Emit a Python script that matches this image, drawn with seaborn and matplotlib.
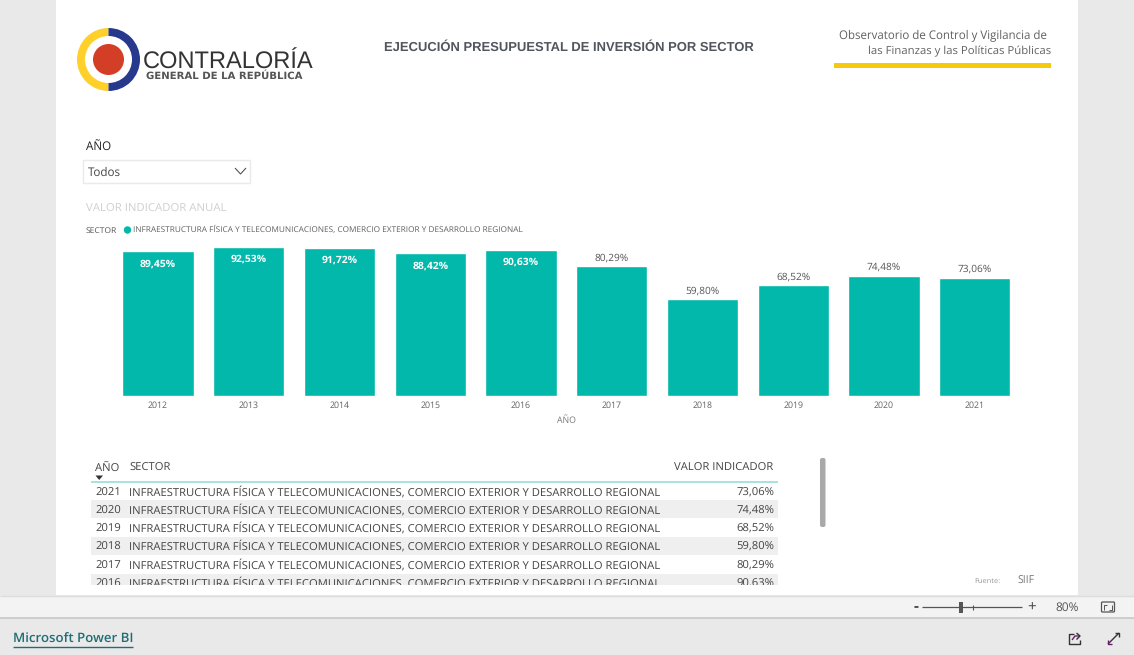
import matplotlib
matplotlib.use("Agg")
import matplotlib.pyplot as plt
import seaborn as sns
import pandas as pd
from matplotlib.patches import Rectangle, Circle, Wedge, FancyBboxPatch

years = [2012, 2013, 2014, 2015, 2016, 2017, 2018, 2019, 2020, 2021]
values = [89.45, 92.53, 91.72, 88.42, 90.63, 80.29, 59.80, 68.52, 74.48, 73.06]
sector = "INFRAESTRUCTURA FÍSICA Y TELECOMUNICACIONES, COMERCIO EXTERIOR Y DESARROLLO REGIONAL"
table_years = [2021, 2020, 2019, 2018, 2017, 2016]
table_values = [73.06, 74.48, 68.52, 59.80, 80.29, 90.63]
title = "EJECUCIÓN PRESUPUESTAL DE INVERSIÓN POR SECTOR"

TEAL = "#01B8AA"
FONT = ["Open Sans", "DejaVu Sans"]
W, H = 1134, 655

sns.set_theme(style="white")
plt.rcParams["font.family"] = FONT
plt.rcParams["text.hinting"] = "no_hinting"
plt.rcParams["text.hinting_factor"] = 8


def pct(v):
    return f"{v:.2f}".replace(".", ",") + "%"


fig = plt.figure(figsize=(W / 100, H / 100), dpi=100, facecolor="#E9E9E9")

# Full-page layer in pixel coordinates for the report furniture
bg = fig.add_axes([0, 0, 1, 1], zorder=0)
bg.set_xlim(0, W)
bg.set_ylim(H, 0)
bg.axis("off")


def rect(x0, y0, x1, y1, color, **kw):
    bg.add_patch(Rectangle((x0, y0), x1 - x0, y1 - y0, facecolor=color, edgecolor="none", **kw))


def line(xs, ys, color="#555555", lw=1.0):
    bg.plot(xs, ys, color=color, lw=lw, solid_capstyle="butt")


def txt(x, y, s, size=8, color="#444444", ha="left", **kw):
    # y is the vertical centre of the capitals; the baseline keeps rows aligned
    return bg.text(x, y + 0.496 * size, s, fontsize=size, color=color, ha=ha, va="baseline", **kw)


rect(56, 0, 1078, 595, "white")
rect(0, 596, W, 618, "#F3F3F3")
line([0, W], [596, 596], "#DDDDDD", 1)
line([0, W], [618, 618], "#C8C8C8", 1.2)

# Logo
bg.add_patch(Wedge((108.5, 59.5), 31.5, 90, 270, width=8, facecolor="#FFCF2A", edgecolor="none"))
bg.add_patch(Wedge((108.5, 59.5), 31.5, 270, 90, width=8, facecolor="#27398C", edgecolor="none"))
bg.add_patch(Circle((108.5, 59.5), 15.5, facecolor="#D33F26", edgecolor="none"))
txt(143, 60, "CONTRALORÍA", 17, "#333333", family=["Liberation Sans"])
txt(146, 75.5, "GENERAL DE LA REPÚBLICA", 7.3, "#555555", family=["DejaVu Sans"], fontweight="bold")

# Header
txt(568.5, 46.5, title, 9.4, "#50565D", ha="center", fontweight="bold", family=["Liberation Sans"])
txt(1047, 34.5, "Observatorio de Control y Vigilancia de", 8.3, "#606060", ha="right")
txt(1051, 50.5, "las Finanzas y las Políticas Públicas", 8.2, "#606060", ha="right")
rect(834, 63, 1051, 68, "#F4C90E")

# Slicer
txt(86, 146, "AÑO", 8.4, "#222222")
bg.add_patch(Rectangle((83, 159.5), 167, 23, facecolor="white", edgecolor="#EAEAEA", lw=1))
txt(88, 171.5, "Todos", 8.4, "#444444")
line([235, 240.5, 246], [168, 174, 168], "#555555", 0.8)

# Chart headings
txt(86, 207.5, "VALOR INDICADOR ANUAL", 8.2, "#CFCFCF")
txt(86, 229.5, "SECTOR", 6.1, "#555555")
bg.add_patch(Circle((127.5, 230), 3.7, facecolor=TEAL, edgecolor="none"))
txt(133, 229.5, sector, 5.91, "#606060")

# Bar chart
ax = fig.add_axes([112.6 / W, 1 - 395.5 / H, 907.5 / W, 161 / H], zorder=1)
ax.patch.set_alpha(0)
df = pd.DataFrame({"AÑO": years, "VALOR": values})
sns.barplot(data=df, x="AÑO", y="VALOR", color=TEAL, saturation=1, width=0.785, ax=ax)
ax.set_ylim(0, 100)
ax.set_xlim(-0.5, 9.5)
ax.set_yticks([])
ax.set_ylabel("")
ax.set_xlabel("AÑO", fontsize=6.3, color="#777777", labelpad=4.5)
ax.tick_params(axis="x", length=0, labelsize=6.3, labelcolor="#606060", pad=4)
sns.despine(ax=ax, left=True, bottom=True)
for bar, v in zip(ax.patches, values):
    inside = v > 85
    ax.annotate(pct(v), (bar.get_x() + bar.get_width() / 2, v),
                xytext=(0, -9 if inside else 6), textcoords="offset points",
                ha="center", va="center", fontsize=7.5 if inside else 7.3,
                color="white" if inside else "#555555",
                fontweight="bold" if inside else "normal")

# Table
row_top = [482, 500, 518.5, 536.5, 555.5, 573.5]
txt(95, 467, "AÑO", 8.1, "#444444")
txt(129, 467, "SECTOR", 8.1, "#444444")
txt(773, 467, "VALOR INDICADOR", 8.1, "#444444", ha="right")
bg.fill([95.5, 103, 99.2], [475.5, 475.5, 480], color="#333333", lw=0)
clip = Rectangle((91, 482), 687, 103, transform=bg.transData)
for i, (yr, v) in enumerate(zip(table_years, table_values)):
    y0 = row_top[i]
    if i % 2 == 1:
        r = Rectangle((91, y0), 687, 18, facecolor="#EFEFEF", edgecolor="none")
        bg.add_patch(r)
        r.set_clip_path(clip)
    for t in (txt(95, y0 + 9.5, str(yr), 8.14),
              txt(129, y0 + 9.5, sector, 8.14),
              txt(774, y0 + 9.5, pct(v), 8.14, ha="right")):
        t.set_clip_on(True)
        t.set_clip_path(clip)
line([91, 778], [482, 482], "#A6E3DE", 1.4)
bg.add_patch(FancyBboxPatch((820, 458), 5.5, 69, boxstyle="round,pad=0,rounding_size=2",
                            facecolor="#A9A9A9", edgecolor="none"))

# Source
txt(974, 580.5, "Fuente:", 5.4, "#999999")
txt(1017, 580.5, "SIIF", 7.6, "#777777")

# Status bar
txt(915.5, 606, "-", 11, "#444444", ha="center", fontweight="bold")
line([922, 1022], [607, 607], "#555555", 0.9)
rect(959, 602, 963, 612.5, "#555555")
line([972.5, 972.5], [604.5, 609.5], "#555555", 0.8)
txt(1032, 606.5, "+", 11, "#444444", ha="center")
txt(1067, 606.5, "80%", 8.6, "#555555", ha="center")
bg.add_patch(FancyBboxPatch((1101.5, 602), 13, 10, boxstyle="round,pad=0,rounding_size=1",
                            facecolor="none", edgecolor="#555555", lw=0.9))
line([1107, 1104, 1104], [604.5, 604.5, 609.5], "#555555", 0.7)
line([1109, 1112, 1112], [609.5, 609.5, 604.5], "#555555", 0.7)

# Footer
txt(13, 638.5, "Microsoft Power BI", 9.5, "#1F6E75", fontweight="semibold")
line([13, 133], [646.5, 646.5], "#1F6E75", 1.0)
line([1074, 1069, 1069, 1080, 1080], [634, 634, 644, 644, 640], "#333333", 1.0)
line([1072, 1075, 1080], [640, 636, 636], "#6A1B6A", 1.0)
line([1076.5, 1080, 1076.5], [633, 636, 639.5], "#333333", 1.0)
line([1108, 1119], [644, 633], "#333333", 1.0)
line([1108, 1108, 1112], [640, 644, 644], "#6A1B6A", 1.0)
line([1115, 1119, 1119], [633, 633, 637], "#333333", 1.0)

fig.savefig("out.png", dpi=100, facecolor=fig.get_facecolor())
